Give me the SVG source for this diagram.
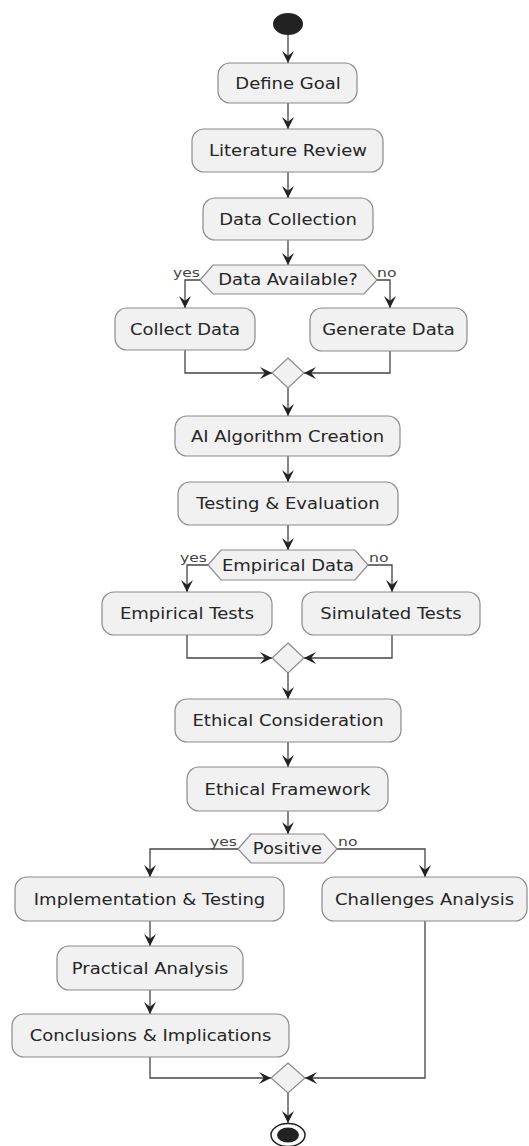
<svg xmlns="http://www.w3.org/2000/svg" width="529" height="1146" viewBox="0 0 529 1146">
<style>
.box{fill:#f1f1f1;stroke:#8a8a8a;stroke-width:1.2}
.hex{fill:#f1f1f1;stroke:#8a8a8a;stroke-width:1.2}
.dia{fill:#f1f1f1;stroke:#8a8a8a;stroke-width:1.2}
.t{font-family:"DejaVu Sans",Verdana,sans-serif;font-size:15px;fill:#262626;text-anchor:middle}
.lbl{font-family:"DejaVu Sans",Verdana,sans-serif;font-size:13px;fill:#444}
.c{fill:none;stroke:#444;stroke-width:1.3}
</style>
<defs>
<marker id="ah" viewBox="0 0 10 10" refX="10" refY="5" markerWidth="12" markerHeight="12" markerUnits="userSpaceOnUse" orient="auto">
<path d="M0,0 L10,5 L0,10 L4,5 z" fill="#222"/>
</marker>
</defs>
<g id="connectors">
<line class="c" x1="288" y1="35" x2="288" y2="63" marker-end="url(#ah)"/>
<line class="c" x1="288" y1="103" x2="288" y2="129" marker-end="url(#ah)"/>
<line class="c" x1="288" y1="172" x2="288" y2="198" marker-end="url(#ah)"/>
<line class="c" x1="288" y1="240" x2="288" y2="265" marker-end="url(#ah)"/>
<polyline class="c" points="200,280 185,280 185,308" marker-end="url(#ah)"/>
<polyline class="c" points="377,280 390,280 390,308" marker-end="url(#ah)"/>
<polyline class="c" points="185,350 185,373 272,373" marker-end="url(#ah)"/>
<polyline class="c" points="390,351 390,373 304,373" marker-end="url(#ah)"/>
<line class="c" x1="288" y1="388" x2="288" y2="416" marker-end="url(#ah)"/>
<line class="c" x1="288" y1="456" x2="288" y2="482" marker-end="url(#ah)"/>
<line class="c" x1="288" y1="525" x2="288" y2="550" marker-end="url(#ah)"/>
<polyline class="c" points="208,565 187,565 187,592" marker-end="url(#ah)"/>
<polyline class="c" points="368,565 392,565 392,592" marker-end="url(#ah)"/>
<polyline class="c" points="187,635 187,658 272,658" marker-end="url(#ah)"/>
<polyline class="c" points="392,635 392,658 304,658" marker-end="url(#ah)"/>
<line class="c" x1="288" y1="673" x2="288" y2="699" marker-end="url(#ah)"/>
<line class="c" x1="288" y1="742" x2="288" y2="767" marker-end="url(#ah)"/>
<line class="c" x1="288" y1="811" x2="288" y2="834" marker-end="url(#ah)"/>
<polyline class="c" points="238,849 150,849 150,877" marker-end="url(#ah)"/>
<polyline class="c" points="337,849 425,849 425,877" marker-end="url(#ah)"/>
<line class="c" x1="150" y1="921" x2="150" y2="946" marker-end="url(#ah)"/>
<line class="c" x1="150" y1="990" x2="150" y2="1014" marker-end="url(#ah)"/>
<polyline class="c" points="150,1057 150,1078 271,1078" marker-end="url(#ah)"/>
<polyline class="c" points="425,921 425,1078 305,1078" marker-end="url(#ah)"/>
<line class="c" x1="288" y1="1093" x2="288" y2="1123" marker-end="url(#ah)"/>
<text class="lbl" x="0" y="0" transform="matrix(1.2 0 0 1 200 277)" text-anchor="end">yes</text>
<text class="lbl" x="0" y="0" transform="matrix(1.2 0 0 1 377 277)">no</text>
<text class="lbl" x="0" y="0" transform="matrix(1.2 0 0 1 207 562)" text-anchor="end">yes</text>
<text class="lbl" x="0" y="0" transform="matrix(1.2 0 0 1 369 562)">no</text>
<text class="lbl" x="0" y="0" transform="matrix(1.2 0 0 1 237 846)" text-anchor="end">yes</text>
<text class="lbl" x="0" y="0" transform="matrix(1.2 0 0 1 338 846)">no</text>
</g>
<g id="start"><ellipse cx="288" cy="24" rx="15" ry="11" fill="#222"/></g>
<g id="n-define-goal"><rect class="box" x="218" y="63" width="139" height="40" rx="12"/><text class="t" transform="matrix(1.2 0 0 1 288 88.5)">Define Goal</text></g>
<g id="n-literature-review"><rect class="box" x="192" y="129" width="191" height="43" rx="12"/><text class="t" transform="matrix(1.2 0 0 1 288 156)">Literature Review</text></g>
<g id="n-data-collection"><rect class="box" x="203" y="198" width="170" height="42" rx="12"/><text class="t" transform="matrix(1.2 0 0 1 288 224.5)">Data Collection</text></g>
<g id="d-data-available"><polygon class="hex" points="200,280 213,265 364,265 377,280 364,294 213,294"/><text class="t" transform="matrix(1.2 0 0 1 288 285)">Data Available?</text></g>
<g id="n-collect-data"><rect class="box" x="115" y="308" width="140" height="42" rx="12"/><text class="t" transform="matrix(1.2 0 0 1 185 334.5)">Collect Data</text></g>
<g id="n-generate-data"><rect class="box" x="310" y="308" width="157" height="43" rx="12"/><text class="t" transform="matrix(1.2 0 0 1 388.5 335)">Generate Data</text></g>
<g id="m-merge1"><polygon class="dia" points="288,358 304,373 288,388 272,373"/></g>
<g id="n-ai-algorithm"><rect class="box" x="175" y="416" width="225" height="40" rx="12"/><text class="t" transform="matrix(1.2 0 0 1 287.5 441.5)">AI Algorithm Creation</text></g>
<g id="n-testing-evaluation"><rect class="box" x="178" y="482" width="220" height="43" rx="12"/><text class="t" transform="matrix(1.2 0 0 1 288 509)">Testing &amp; Evaluation</text></g>
<g id="d-empirical-data"><polygon class="hex" points="208,565 221,550 355,550 368,565 355,580 221,580"/><text class="t" transform="matrix(1.2 0 0 1 288 570.5)">Empirical Data</text></g>
<g id="n-empirical-tests"><rect class="box" x="102" y="592" width="170" height="43" rx="12"/><text class="t" transform="matrix(1.2 0 0 1 187 619)">Empirical Tests</text></g>
<g id="n-simulated-tests"><rect class="box" x="302" y="592" width="178" height="43" rx="12"/><text class="t" transform="matrix(1.2 0 0 1 391 619)">Simulated Tests</text></g>
<g id="m-merge2"><polygon class="dia" points="288,643 304,658 288,673 272,658"/></g>
<g id="n-ethical-consideration"><rect class="box" x="175" y="699" width="226" height="43" rx="12"/><text class="t" transform="matrix(1.2 0 0 1 288 726)">Ethical Consideration</text></g>
<g id="n-ethical-framework"><rect class="box" x="187" y="767" width="201" height="44" rx="12"/><text class="t" transform="matrix(1.2 0 0 1 287.5 794.5)">Ethical Framework</text></g>
<g id="d-positive"><polygon class="hex" points="238,849 251,834 324,834 337,849 324,863 251,863"/><text class="t" transform="matrix(1.2 0 0 1 287.5 854)">Positive</text></g>
<g id="n-implementation-testing"><rect class="box" x="15" y="877" width="269" height="44" rx="12"/><text class="t" transform="matrix(1.2 0 0 1 149.5 904.5)">Implementation &amp; Testing</text></g>
<g id="n-challenges-analysis"><rect class="box" x="322" y="877" width="205" height="44" rx="12"/><text class="t" transform="matrix(1.2 0 0 1 424.5 904.5)">Challenges Analysis</text></g>
<g id="n-practical-analysis"><rect class="box" x="57" y="946" width="186" height="44" rx="12"/><text class="t" transform="matrix(1.2 0 0 1 150 973.5)">Practical Analysis</text></g>
<g id="n-conclusions"><rect class="box" x="12" y="1014" width="277" height="43" rx="12"/><text class="t" transform="matrix(1.2 0 0 1 150.5 1041)">Conclusions &amp; Implications</text></g>
<g id="m-merge3"><polygon class="dia" points="288,1063 305,1078 288,1093 271,1078"/></g>
<g id="end"><ellipse cx="288" cy="1135" rx="17" ry="11.5" fill="#fff" stroke="#222" stroke-width="1.5"/><ellipse cx="288" cy="1135" rx="11" ry="7.5" fill="#222"/></g>
</svg>
